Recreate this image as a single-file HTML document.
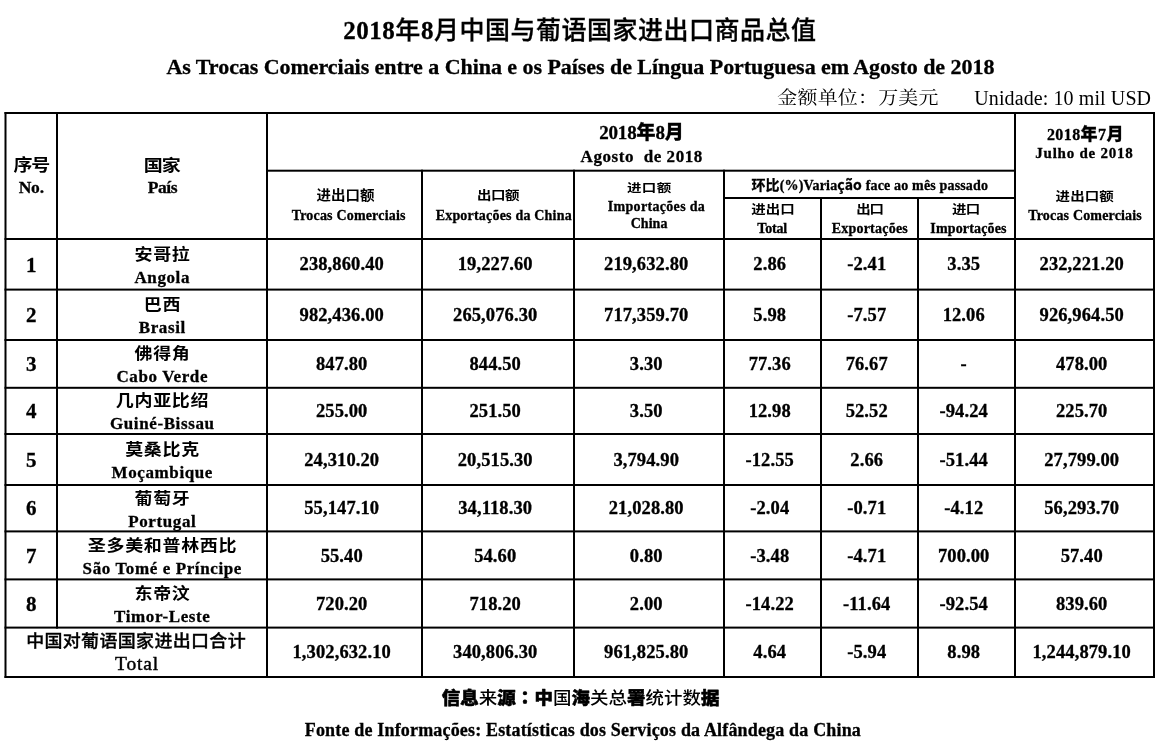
<!DOCTYPE html>
<html lang="zh">
<head>
<meta charset="utf-8">
<title>2018年8月中国与葡语国家进出口商品总值</title>
<style>
html,body{margin:0;padding:0;background:#fff;}
body{width:1162px;height:750px;overflow:hidden;}
svg{display:block;}
text{fill:#000;}
</style>
</head>
<body>
<svg width="1162" height="750" viewBox="0 0 1162 750">
<rect x="0" y="0" width="1162" height="750" fill="#fff"/>
<g fill="#000">
<rect x="4.5" y="112.0" width="1150.5" height="2.0"/>
<rect x="4.5" y="238.0" width="1150.5" height="2.0"/>
<rect x="4.5" y="288.6" width="1150.5" height="2.0"/>
<rect x="4.5" y="339.0" width="1150.5" height="2.0"/>
<rect x="4.5" y="386.8" width="1150.5" height="2.0"/>
<rect x="4.5" y="433.0" width="1150.5" height="2.0"/>
<rect x="4.5" y="484.0" width="1150.5" height="2.0"/>
<rect x="4.5" y="530.4" width="1150.5" height="2.0"/>
<rect x="4.5" y="578.4" width="1150.5" height="2.0"/>
<rect x="4.5" y="626.6" width="1150.5" height="2.0"/>
<rect x="4.5" y="676.0" width="1150.5" height="2.0"/>
<rect x="266.0" y="169.7" width="750.0" height="2.0"/>
<rect x="723.0" y="197.0" width="293.0" height="2.0"/>
<rect x="4.5" y="112.0" width="2.0" height="566.0"/>
<rect x="1153.0" y="112.0" width="2.0" height="566.0"/>
<rect x="56.0" y="112.0" width="2.0" height="516.6"/>
<rect x="266.0" y="112.0" width="2.0" height="566.0"/>
<rect x="421.0" y="169.7" width="2.0" height="508.3"/>
<rect x="573.0" y="169.7" width="2.0" height="508.3"/>
<rect x="723.0" y="169.7" width="2.0" height="508.3"/>
<rect x="820.0" y="197.0" width="2.0" height="481.0"/>
<rect x="917.0" y="197.0" width="2.0" height="481.0"/>
<rect x="1014.0" y="112.0" width="2.0" height="566.0"/>
</g>
<g>
<text x="579.93" y="38.90" text-anchor="middle" font-size="25.00" font-family="'Liberation Serif', 'Noto Sans CJK SC', serif" font-weight="bold" letter-spacing="0.51" stroke="#000" stroke-width="0.3">2018<tspan font-family="'Noto Sans CJK SC', sans-serif" font-weight="500">年</tspan>8<tspan font-family="'Noto Sans CJK SC', sans-serif" font-weight="500">月中国与葡语国家进出口商品总值</tspan></text>
<text x="580.42" y="73.90" text-anchor="middle" font-size="22.00" font-family="'Liberation Serif', 'Noto Sans CJK SC', serif" font-weight="bold" letter-spacing="-0.05" stroke="#000" stroke-width="0.3">As Trocas Comerciais entre a China e os Países de Língua Portuguesa em Agosto de 2018</text>
<text transform="translate(858.00 104.10) scale(1.000 0.886)" text-anchor="middle" font-size="20.00" font-family="'Noto Serif CJK SC', serif" letter-spacing="0.18">金额单位：万美元</text>
<text x="1062.72" y="104.90" text-anchor="middle" font-size="20.00" font-family="'Liberation Serif', 'Noto Sans CJK SC', serif" letter-spacing="0.10">Unidade: 10 mil USD</text>
<text transform="translate(31.13 171.28) scale(1.000 0.892)" text-anchor="middle" font-size="19.00" font-family="'Noto Sans CJK SC', sans-serif" font-weight="bold" letter-spacing="-1.32">序号</text>
<text x="31.25" y="193.40" text-anchor="middle" font-size="17.50" font-family="'Liberation Serif', 'Noto Sans CJK SC', serif" font-weight="bold" letter-spacing="-0.18" stroke="#000" stroke-width="0.3">No.</text>
<text transform="translate(161.70 171.28) scale(1.000 0.850)" text-anchor="middle" font-size="19.00" font-family="'Noto Sans CJK SC', sans-serif" font-weight="bold" letter-spacing="-0.96">国家</text>
<text x="162.39" y="193.40" text-anchor="middle" font-size="17.50" font-family="'Liberation Serif', 'Noto Sans CJK SC', serif" font-weight="bold" letter-spacing="-0.48" stroke="#000" stroke-width="0.3">País</text>
<text x="641.42" y="138.90" text-anchor="middle" font-size="19.00" font-family="'Liberation Serif', 'Noto Sans CJK SC', serif" font-weight="bold" letter-spacing="-0.14" stroke="#000" stroke-width="0.3">2018<tspan font-family="'Noto Sans CJK SC', sans-serif" font-weight="900">年</tspan>8<tspan font-family="'Noto Sans CJK SC', sans-serif" font-weight="900">月</tspan></text>
<text x="641.73" y="161.50" text-anchor="middle" font-size="17.00" font-family="'Liberation Serif', 'Noto Sans CJK SC', serif" font-weight="bold" letter-spacing="0.57" xml:space="preserve" stroke="#000" stroke-width="0.3">Agosto  de 2018</text>
<text x="1085.38" y="139.70" text-anchor="middle" font-size="16.00" font-family="'Liberation Serif', 'Noto Sans CJK SC', serif" font-weight="bold" letter-spacing="0.41" stroke="#000" stroke-width="0.3">2018<tspan font-family="'Noto Sans CJK SC', sans-serif" font-weight="900" font-size="17">年</tspan>7<tspan font-family="'Noto Sans CJK SC', sans-serif" font-weight="900" font-size="17">月</tspan></text>
<text x="1084.42" y="158.40" text-anchor="middle" font-size="15.00" font-family="'Liberation Serif', 'Noto Sans CJK SC', serif" font-weight="bold" letter-spacing="0.75" stroke="#000" stroke-width="0.3">Julho de 2018</text>
<text transform="translate(345.45 200.28) scale(1.000 0.907)" text-anchor="middle" font-size="14.50" font-family="'Noto Sans CJK SC', sans-serif" font-weight="bold" letter-spacing="0.03">进出口额</text>
<text x="348.68" y="219.80" text-anchor="middle" font-size="14.00" font-family="'Liberation Serif', 'Noto Sans CJK SC', serif" font-weight="bold" letter-spacing="0.18" stroke="#000" stroke-width="0.3">Trocas Comerciais</text>
<text transform="translate(498.02 200.20) scale(1.000 0.843)" text-anchor="middle" font-size="14.50" font-family="'Noto Sans CJK SC', sans-serif" font-weight="bold" letter-spacing="-0.41">出口额</text>
<text x="503.77" y="219.80" text-anchor="middle" font-size="14.00" font-family="'Liberation Serif', 'Noto Sans CJK SC', serif" font-weight="bold" letter-spacing="0.20" stroke="#000" stroke-width="0.3">Exportações da China</text>
<text transform="translate(649.32 191.80) scale(1.000 0.796)" text-anchor="middle" font-size="14.50" font-family="'Noto Sans CJK SC', sans-serif" font-weight="bold" letter-spacing="0.45">进口额</text>
<text x="656.45" y="211.20" text-anchor="middle" font-size="14.00" font-family="'Liberation Serif', 'Noto Sans CJK SC', serif" font-weight="bold" letter-spacing="0.32" stroke="#000" stroke-width="0.3">Importações da</text>
<text x="649.11" y="227.50" text-anchor="middle" font-size="14.00" font-family="'Liberation Serif', 'Noto Sans CJK SC', serif" font-weight="bold" letter-spacing="0.04" stroke="#000" stroke-width="0.3">China</text>
<text x="869.80" y="190.00" text-anchor="middle" font-size="14.00" font-family="'Liberation Serif', 'Noto Sans CJK SC', serif" font-weight="bold" letter-spacing="0.16" stroke="#000" stroke-width="0.3"><tspan font-family="'Noto Sans CJK SC', sans-serif" font-weight="bold">环比</tspan>(%)Varia<tspan font-family="'Noto Sans CJK SC', sans-serif" font-weight="bold">ção</tspan> face ao mês passado</text>
<text transform="translate(772.97 213.58) scale(1.000 0.843)" text-anchor="middle" font-size="14.50" font-family="'Noto Sans CJK SC', sans-serif" font-weight="bold" letter-spacing="-0.04">进出口</text>
<text x="772.20" y="232.80" text-anchor="middle" font-size="14.00" font-family="'Liberation Serif', 'Noto Sans CJK SC', serif" font-weight="bold" letter-spacing="-0.17" stroke="#000" stroke-width="0.3">Total</text>
<text transform="translate(869.57 214.38) scale(1.000 0.828)" text-anchor="middle" font-size="14.50" font-family="'Noto Sans CJK SC', sans-serif" font-weight="bold" letter-spacing="-1.17">出口</text>
<text x="869.83" y="233.00" text-anchor="middle" font-size="14.00" font-family="'Liberation Serif', 'Noto Sans CJK SC', serif" font-weight="bold" letter-spacing="0.23" stroke="#000" stroke-width="0.3">Exportações</text>
<text transform="translate(965.69 214.38) scale(1.000 0.828)" text-anchor="middle" font-size="14.50" font-family="'Noto Sans CJK SC', sans-serif" font-weight="bold" letter-spacing="-0.81">进口</text>
<text x="968.51" y="233.00" text-anchor="middle" font-size="14.00" font-family="'Liberation Serif', 'Noto Sans CJK SC', serif" font-weight="bold" letter-spacing="0.15" stroke="#000" stroke-width="0.3">Importações</text>
<text transform="translate(1084.74 201.20) scale(1.000 0.828)" text-anchor="middle" font-size="14.50" font-family="'Noto Sans CJK SC', sans-serif" font-weight="bold" letter-spacing="0.12">进出口额</text>
<text x="1085.12" y="219.60" text-anchor="middle" font-size="14.00" font-family="'Liberation Serif', 'Noto Sans CJK SC', serif" font-weight="bold" letter-spacing="0.17" stroke="#000" stroke-width="0.3">Trocas Comerciais</text>
<text x="31.22" y="271.50" text-anchor="middle" font-size="21.00" font-family="'Liberation Serif', 'Noto Sans CJK SC', serif" font-weight="bold" stroke="#000" stroke-width="0.3">1</text>
<text transform="translate(162.47 259.76) scale(1.000 0.890)" text-anchor="middle" font-size="18.00" font-family="'Noto Sans CJK SC', sans-serif" font-weight="700" letter-spacing="0.69">安哥拉</text>
<text x="162.28" y="282.60" text-anchor="middle" font-size="17.00" font-family="'Liberation Serif', 'Noto Sans CJK SC', serif" font-weight="bold" letter-spacing="0.61" stroke="#000" stroke-width="0.3">Angola</text>
<text x="341.72" y="270.40" text-anchor="middle" font-size="18.50" font-family="'Liberation Serif', 'Noto Sans CJK SC', serif" font-weight="bold" letter-spacing="0.11" stroke="#000" stroke-width="0.3">238,860.40</text>
<text x="495.22" y="270.40" text-anchor="middle" font-size="18.50" font-family="'Liberation Serif', 'Noto Sans CJK SC', serif" font-weight="bold" letter-spacing="0.11" stroke="#000" stroke-width="0.3">19,227.60</text>
<text x="646.22" y="270.40" text-anchor="middle" font-size="18.50" font-family="'Liberation Serif', 'Noto Sans CJK SC', serif" font-weight="bold" letter-spacing="0.11" stroke="#000" stroke-width="0.3">219,632.80</text>
<text x="769.72" y="270.40" text-anchor="middle" font-size="18.50" font-family="'Liberation Serif', 'Noto Sans CJK SC', serif" font-weight="bold" letter-spacing="0.11" stroke="#000" stroke-width="0.3">2.86</text>
<text x="866.72" y="270.40" text-anchor="middle" font-size="18.50" font-family="'Liberation Serif', 'Noto Sans CJK SC', serif" font-weight="bold" letter-spacing="0.11" stroke="#000" stroke-width="0.3">-2.41</text>
<text x="963.72" y="270.40" text-anchor="middle" font-size="18.50" font-family="'Liberation Serif', 'Noto Sans CJK SC', serif" font-weight="bold" letter-spacing="0.11" stroke="#000" stroke-width="0.3">3.35</text>
<text x="1081.72" y="270.40" text-anchor="middle" font-size="18.50" font-family="'Liberation Serif', 'Noto Sans CJK SC', serif" font-weight="bold" letter-spacing="0.11" stroke="#000" stroke-width="0.3">232,221.20</text>
<text x="31.22" y="322.00" text-anchor="middle" font-size="21.00" font-family="'Liberation Serif', 'Noto Sans CJK SC', serif" font-weight="bold" stroke="#000" stroke-width="0.3">2</text>
<text transform="translate(162.47 310.26) scale(1.000 0.890)" text-anchor="middle" font-size="18.00" font-family="'Noto Sans CJK SC', sans-serif" font-weight="700" letter-spacing="0.69">巴西</text>
<text x="162.28" y="333.10" text-anchor="middle" font-size="17.00" font-family="'Liberation Serif', 'Noto Sans CJK SC', serif" font-weight="bold" letter-spacing="0.61" stroke="#000" stroke-width="0.3">Brasil</text>
<text x="341.72" y="320.90" text-anchor="middle" font-size="18.50" font-family="'Liberation Serif', 'Noto Sans CJK SC', serif" font-weight="bold" letter-spacing="0.11" stroke="#000" stroke-width="0.3">982,436.00</text>
<text x="495.22" y="320.90" text-anchor="middle" font-size="18.50" font-family="'Liberation Serif', 'Noto Sans CJK SC', serif" font-weight="bold" letter-spacing="0.11" stroke="#000" stroke-width="0.3">265,076.30</text>
<text x="646.22" y="320.90" text-anchor="middle" font-size="18.50" font-family="'Liberation Serif', 'Noto Sans CJK SC', serif" font-weight="bold" letter-spacing="0.11" stroke="#000" stroke-width="0.3">717,359.70</text>
<text x="769.72" y="320.90" text-anchor="middle" font-size="18.50" font-family="'Liberation Serif', 'Noto Sans CJK SC', serif" font-weight="bold" letter-spacing="0.11" stroke="#000" stroke-width="0.3">5.98</text>
<text x="866.72" y="320.90" text-anchor="middle" font-size="18.50" font-family="'Liberation Serif', 'Noto Sans CJK SC', serif" font-weight="bold" letter-spacing="0.11" stroke="#000" stroke-width="0.3">-7.57</text>
<text x="963.72" y="320.90" text-anchor="middle" font-size="18.50" font-family="'Liberation Serif', 'Noto Sans CJK SC', serif" font-weight="bold" letter-spacing="0.11" stroke="#000" stroke-width="0.3">12.06</text>
<text x="1081.72" y="320.90" text-anchor="middle" font-size="18.50" font-family="'Liberation Serif', 'Noto Sans CJK SC', serif" font-weight="bold" letter-spacing="0.11" stroke="#000" stroke-width="0.3">926,964.50</text>
<text x="31.22" y="371.10" text-anchor="middle" font-size="21.00" font-family="'Liberation Serif', 'Noto Sans CJK SC', serif" font-weight="bold" stroke="#000" stroke-width="0.3">3</text>
<text transform="translate(162.47 359.36) scale(1.000 0.890)" text-anchor="middle" font-size="18.00" font-family="'Noto Sans CJK SC', sans-serif" font-weight="700" letter-spacing="0.69">佛得角</text>
<text x="162.28" y="382.20" text-anchor="middle" font-size="17.00" font-family="'Liberation Serif', 'Noto Sans CJK SC', serif" font-weight="bold" letter-spacing="0.61" stroke="#000" stroke-width="0.3">Cabo Verde</text>
<text x="341.72" y="370.00" text-anchor="middle" font-size="18.50" font-family="'Liberation Serif', 'Noto Sans CJK SC', serif" font-weight="bold" letter-spacing="0.11" stroke="#000" stroke-width="0.3">847.80</text>
<text x="495.22" y="370.00" text-anchor="middle" font-size="18.50" font-family="'Liberation Serif', 'Noto Sans CJK SC', serif" font-weight="bold" letter-spacing="0.11" stroke="#000" stroke-width="0.3">844.50</text>
<text x="646.22" y="370.00" text-anchor="middle" font-size="18.50" font-family="'Liberation Serif', 'Noto Sans CJK SC', serif" font-weight="bold" letter-spacing="0.11" stroke="#000" stroke-width="0.3">3.30</text>
<text x="769.72" y="370.00" text-anchor="middle" font-size="18.50" font-family="'Liberation Serif', 'Noto Sans CJK SC', serif" font-weight="bold" letter-spacing="0.11" stroke="#000" stroke-width="0.3">77.36</text>
<text x="866.72" y="370.00" text-anchor="middle" font-size="18.50" font-family="'Liberation Serif', 'Noto Sans CJK SC', serif" font-weight="bold" letter-spacing="0.11" stroke="#000" stroke-width="0.3">76.67</text>
<text x="963.72" y="370.00" text-anchor="middle" font-size="18.50" font-family="'Liberation Serif', 'Noto Sans CJK SC', serif" font-weight="bold" letter-spacing="0.11" stroke="#000" stroke-width="0.3">-</text>
<text x="1081.72" y="370.00" text-anchor="middle" font-size="18.50" font-family="'Liberation Serif', 'Noto Sans CJK SC', serif" font-weight="bold" letter-spacing="0.11" stroke="#000" stroke-width="0.3">478.00</text>
<text x="31.22" y="418.10" text-anchor="middle" font-size="21.00" font-family="'Liberation Serif', 'Noto Sans CJK SC', serif" font-weight="bold" stroke="#000" stroke-width="0.3">4</text>
<text transform="translate(162.47 406.36) scale(1.000 0.890)" text-anchor="middle" font-size="18.00" font-family="'Noto Sans CJK SC', sans-serif" font-weight="700" letter-spacing="0.69">几内亚比绍</text>
<text x="162.28" y="429.20" text-anchor="middle" font-size="17.00" font-family="'Liberation Serif', 'Noto Sans CJK SC', serif" font-weight="bold" letter-spacing="0.61" stroke="#000" stroke-width="0.3">Guiné-Bissau</text>
<text x="341.72" y="417.00" text-anchor="middle" font-size="18.50" font-family="'Liberation Serif', 'Noto Sans CJK SC', serif" font-weight="bold" letter-spacing="0.11" stroke="#000" stroke-width="0.3">255.00</text>
<text x="495.22" y="417.00" text-anchor="middle" font-size="18.50" font-family="'Liberation Serif', 'Noto Sans CJK SC', serif" font-weight="bold" letter-spacing="0.11" stroke="#000" stroke-width="0.3">251.50</text>
<text x="646.22" y="417.00" text-anchor="middle" font-size="18.50" font-family="'Liberation Serif', 'Noto Sans CJK SC', serif" font-weight="bold" letter-spacing="0.11" stroke="#000" stroke-width="0.3">3.50</text>
<text x="769.72" y="417.00" text-anchor="middle" font-size="18.50" font-family="'Liberation Serif', 'Noto Sans CJK SC', serif" font-weight="bold" letter-spacing="0.11" stroke="#000" stroke-width="0.3">12.98</text>
<text x="866.72" y="417.00" text-anchor="middle" font-size="18.50" font-family="'Liberation Serif', 'Noto Sans CJK SC', serif" font-weight="bold" letter-spacing="0.11" stroke="#000" stroke-width="0.3">52.52</text>
<text x="963.72" y="417.00" text-anchor="middle" font-size="18.50" font-family="'Liberation Serif', 'Noto Sans CJK SC', serif" font-weight="bold" letter-spacing="0.11" stroke="#000" stroke-width="0.3">-94.24</text>
<text x="1081.72" y="417.00" text-anchor="middle" font-size="18.50" font-family="'Liberation Serif', 'Noto Sans CJK SC', serif" font-weight="bold" letter-spacing="0.11" stroke="#000" stroke-width="0.3">225.70</text>
<text x="31.22" y="466.70" text-anchor="middle" font-size="21.00" font-family="'Liberation Serif', 'Noto Sans CJK SC', serif" font-weight="bold" stroke="#000" stroke-width="0.3">5</text>
<text transform="translate(162.47 454.96) scale(1.000 0.890)" text-anchor="middle" font-size="18.00" font-family="'Noto Sans CJK SC', sans-serif" font-weight="700" letter-spacing="0.69">莫桑比克</text>
<text x="162.28" y="477.80" text-anchor="middle" font-size="17.00" font-family="'Liberation Serif', 'Noto Sans CJK SC', serif" font-weight="bold" letter-spacing="0.61" stroke="#000" stroke-width="0.3">Moçambique</text>
<text x="341.72" y="465.60" text-anchor="middle" font-size="18.50" font-family="'Liberation Serif', 'Noto Sans CJK SC', serif" font-weight="bold" letter-spacing="0.11" stroke="#000" stroke-width="0.3">24,310.20</text>
<text x="495.22" y="465.60" text-anchor="middle" font-size="18.50" font-family="'Liberation Serif', 'Noto Sans CJK SC', serif" font-weight="bold" letter-spacing="0.11" stroke="#000" stroke-width="0.3">20,515.30</text>
<text x="646.22" y="465.60" text-anchor="middle" font-size="18.50" font-family="'Liberation Serif', 'Noto Sans CJK SC', serif" font-weight="bold" letter-spacing="0.11" stroke="#000" stroke-width="0.3">3,794.90</text>
<text x="769.72" y="465.60" text-anchor="middle" font-size="18.50" font-family="'Liberation Serif', 'Noto Sans CJK SC', serif" font-weight="bold" letter-spacing="0.11" stroke="#000" stroke-width="0.3">-12.55</text>
<text x="866.72" y="465.60" text-anchor="middle" font-size="18.50" font-family="'Liberation Serif', 'Noto Sans CJK SC', serif" font-weight="bold" letter-spacing="0.11" stroke="#000" stroke-width="0.3">2.66</text>
<text x="963.72" y="465.60" text-anchor="middle" font-size="18.50" font-family="'Liberation Serif', 'Noto Sans CJK SC', serif" font-weight="bold" letter-spacing="0.11" stroke="#000" stroke-width="0.3">-51.44</text>
<text x="1081.72" y="465.60" text-anchor="middle" font-size="18.50" font-family="'Liberation Serif', 'Noto Sans CJK SC', serif" font-weight="bold" letter-spacing="0.11" stroke="#000" stroke-width="0.3">27,799.00</text>
<text x="31.22" y="515.40" text-anchor="middle" font-size="21.00" font-family="'Liberation Serif', 'Noto Sans CJK SC', serif" font-weight="bold" stroke="#000" stroke-width="0.3">6</text>
<text transform="translate(162.47 503.66) scale(1.000 0.890)" text-anchor="middle" font-size="18.00" font-family="'Noto Sans CJK SC', sans-serif" font-weight="700" letter-spacing="0.69">葡萄牙</text>
<text x="162.28" y="526.50" text-anchor="middle" font-size="17.00" font-family="'Liberation Serif', 'Noto Sans CJK SC', serif" font-weight="bold" letter-spacing="0.61" stroke="#000" stroke-width="0.3">Portugal</text>
<text x="341.72" y="514.30" text-anchor="middle" font-size="18.50" font-family="'Liberation Serif', 'Noto Sans CJK SC', serif" font-weight="bold" letter-spacing="0.11" stroke="#000" stroke-width="0.3">55,147.10</text>
<text x="495.22" y="514.30" text-anchor="middle" font-size="18.50" font-family="'Liberation Serif', 'Noto Sans CJK SC', serif" font-weight="bold" letter-spacing="0.11" stroke="#000" stroke-width="0.3">34,118.30</text>
<text x="646.22" y="514.30" text-anchor="middle" font-size="18.50" font-family="'Liberation Serif', 'Noto Sans CJK SC', serif" font-weight="bold" letter-spacing="0.11" stroke="#000" stroke-width="0.3">21,028.80</text>
<text x="769.72" y="514.30" text-anchor="middle" font-size="18.50" font-family="'Liberation Serif', 'Noto Sans CJK SC', serif" font-weight="bold" letter-spacing="0.11" stroke="#000" stroke-width="0.3">-2.04</text>
<text x="866.72" y="514.30" text-anchor="middle" font-size="18.50" font-family="'Liberation Serif', 'Noto Sans CJK SC', serif" font-weight="bold" letter-spacing="0.11" stroke="#000" stroke-width="0.3">-0.71</text>
<text x="963.72" y="514.30" text-anchor="middle" font-size="18.50" font-family="'Liberation Serif', 'Noto Sans CJK SC', serif" font-weight="bold" letter-spacing="0.11" stroke="#000" stroke-width="0.3">-4.12</text>
<text x="1081.72" y="514.30" text-anchor="middle" font-size="18.50" font-family="'Liberation Serif', 'Noto Sans CJK SC', serif" font-weight="bold" letter-spacing="0.11" stroke="#000" stroke-width="0.3">56,293.70</text>
<text x="31.22" y="562.60" text-anchor="middle" font-size="21.00" font-family="'Liberation Serif', 'Noto Sans CJK SC', serif" font-weight="bold" stroke="#000" stroke-width="0.3">7</text>
<text transform="translate(162.47 550.86) scale(1.000 0.890)" text-anchor="middle" font-size="18.00" font-family="'Noto Sans CJK SC', sans-serif" font-weight="700" letter-spacing="0.69">圣多美和普林西比</text>
<text x="162.28" y="573.70" text-anchor="middle" font-size="17.00" font-family="'Liberation Serif', 'Noto Sans CJK SC', serif" font-weight="bold" letter-spacing="0.61" stroke="#000" stroke-width="0.3">São Tomé e Príncipe</text>
<text x="341.72" y="561.50" text-anchor="middle" font-size="18.50" font-family="'Liberation Serif', 'Noto Sans CJK SC', serif" font-weight="bold" letter-spacing="0.11" stroke="#000" stroke-width="0.3">55.40</text>
<text x="495.22" y="561.50" text-anchor="middle" font-size="18.50" font-family="'Liberation Serif', 'Noto Sans CJK SC', serif" font-weight="bold" letter-spacing="0.11" stroke="#000" stroke-width="0.3">54.60</text>
<text x="646.22" y="561.50" text-anchor="middle" font-size="18.50" font-family="'Liberation Serif', 'Noto Sans CJK SC', serif" font-weight="bold" letter-spacing="0.11" stroke="#000" stroke-width="0.3">0.80</text>
<text x="769.72" y="561.50" text-anchor="middle" font-size="18.50" font-family="'Liberation Serif', 'Noto Sans CJK SC', serif" font-weight="bold" letter-spacing="0.11" stroke="#000" stroke-width="0.3">-3.48</text>
<text x="866.72" y="561.50" text-anchor="middle" font-size="18.50" font-family="'Liberation Serif', 'Noto Sans CJK SC', serif" font-weight="bold" letter-spacing="0.11" stroke="#000" stroke-width="0.3">-4.71</text>
<text x="963.72" y="561.50" text-anchor="middle" font-size="18.50" font-family="'Liberation Serif', 'Noto Sans CJK SC', serif" font-weight="bold" letter-spacing="0.11" stroke="#000" stroke-width="0.3">700.00</text>
<text x="1081.72" y="561.50" text-anchor="middle" font-size="18.50" font-family="'Liberation Serif', 'Noto Sans CJK SC', serif" font-weight="bold" letter-spacing="0.11" stroke="#000" stroke-width="0.3">57.40</text>
<text x="31.22" y="610.70" text-anchor="middle" font-size="21.00" font-family="'Liberation Serif', 'Noto Sans CJK SC', serif" font-weight="bold" stroke="#000" stroke-width="0.3">8</text>
<text transform="translate(162.47 598.96) scale(1.000 0.890)" text-anchor="middle" font-size="18.00" font-family="'Noto Sans CJK SC', sans-serif" font-weight="700" letter-spacing="0.69">东帝汶</text>
<text x="162.28" y="621.80" text-anchor="middle" font-size="17.00" font-family="'Liberation Serif', 'Noto Sans CJK SC', serif" font-weight="bold" letter-spacing="0.61" stroke="#000" stroke-width="0.3">Timor-Leste</text>
<text x="341.72" y="609.60" text-anchor="middle" font-size="18.50" font-family="'Liberation Serif', 'Noto Sans CJK SC', serif" font-weight="bold" letter-spacing="0.11" stroke="#000" stroke-width="0.3">720.20</text>
<text x="495.22" y="609.60" text-anchor="middle" font-size="18.50" font-family="'Liberation Serif', 'Noto Sans CJK SC', serif" font-weight="bold" letter-spacing="0.11" stroke="#000" stroke-width="0.3">718.20</text>
<text x="646.22" y="609.60" text-anchor="middle" font-size="18.50" font-family="'Liberation Serif', 'Noto Sans CJK SC', serif" font-weight="bold" letter-spacing="0.11" stroke="#000" stroke-width="0.3">2.00</text>
<text x="769.72" y="609.60" text-anchor="middle" font-size="18.50" font-family="'Liberation Serif', 'Noto Sans CJK SC', serif" font-weight="bold" letter-spacing="0.11" stroke="#000" stroke-width="0.3">-14.22</text>
<text x="866.72" y="609.60" text-anchor="middle" font-size="18.50" font-family="'Liberation Serif', 'Noto Sans CJK SC', serif" font-weight="bold" letter-spacing="0.11" stroke="#000" stroke-width="0.3">-11.64</text>
<text x="963.72" y="609.60" text-anchor="middle" font-size="18.50" font-family="'Liberation Serif', 'Noto Sans CJK SC', serif" font-weight="bold" letter-spacing="0.11" stroke="#000" stroke-width="0.3">-92.54</text>
<text x="1081.72" y="609.60" text-anchor="middle" font-size="18.50" font-family="'Liberation Serif', 'Noto Sans CJK SC', serif" font-weight="bold" letter-spacing="0.11" stroke="#000" stroke-width="0.3">839.60</text>
<text transform="translate(136.06 647.33) scale(1.000 0.933)" text-anchor="middle" font-size="18.00" font-family="'Noto Sans CJK SC', sans-serif" font-weight="500" letter-spacing="0.34" stroke="#000" stroke-width="0.35">中国对葡语国家进出口合计</text>
<text x="137.04" y="670.40" text-anchor="middle" font-size="19.50" font-family="'Liberation Serif', 'Noto Sans CJK SC', serif" letter-spacing="0.85" stroke="#000" stroke-width="0.45">Total</text>
<text x="341.72" y="658.15" text-anchor="middle" font-size="18.50" font-family="'Liberation Serif', 'Noto Sans CJK SC', serif" font-weight="bold" letter-spacing="0.11" stroke="#000" stroke-width="0.3">1,302,632.10</text>
<text x="495.22" y="658.15" text-anchor="middle" font-size="18.50" font-family="'Liberation Serif', 'Noto Sans CJK SC', serif" font-weight="bold" letter-spacing="0.11" stroke="#000" stroke-width="0.3">340,806.30</text>
<text x="646.22" y="658.15" text-anchor="middle" font-size="18.50" font-family="'Liberation Serif', 'Noto Sans CJK SC', serif" font-weight="bold" letter-spacing="0.11" stroke="#000" stroke-width="0.3">961,825.80</text>
<text x="769.72" y="658.15" text-anchor="middle" font-size="18.50" font-family="'Liberation Serif', 'Noto Sans CJK SC', serif" font-weight="bold" letter-spacing="0.11" stroke="#000" stroke-width="0.3">4.64</text>
<text x="866.72" y="658.15" text-anchor="middle" font-size="18.50" font-family="'Liberation Serif', 'Noto Sans CJK SC', serif" font-weight="bold" letter-spacing="0.11" stroke="#000" stroke-width="0.3">-5.94</text>
<text x="963.72" y="658.15" text-anchor="middle" font-size="18.50" font-family="'Liberation Serif', 'Noto Sans CJK SC', serif" font-weight="bold" letter-spacing="0.11" stroke="#000" stroke-width="0.3">8.98</text>
<text x="1081.72" y="658.15" text-anchor="middle" font-size="18.50" font-family="'Liberation Serif', 'Noto Sans CJK SC', serif" font-weight="bold" letter-spacing="0.11" stroke="#000" stroke-width="0.3">1,244,879.10</text>
<text transform="translate(580.68 704.00) scale(1.000 0.930)" text-anchor="middle" font-size="18.50" font-family="'Noto Sans CJK SC', sans-serif" letter-spacing="0.02"><tspan font-weight="900" stroke="#000" stroke-width="0.6" stroke-linejoin="round">信息</tspan><tspan font-weight="500">来</tspan><tspan font-weight="900" stroke="#000" stroke-width="0.6" stroke-linejoin="round">源</tspan><tspan font-weight="900" stroke="#000" stroke-width="0.6" stroke-linejoin="round"><tspan font-family="'Noto Sans CJK TC', sans-serif" xml:lang="zh-TW" lang="zh-TW">：</tspan></tspan><tspan font-weight="900" stroke="#000" stroke-width="0.6" stroke-linejoin="round">中</tspan><tspan font-weight="500">国</tspan><tspan font-weight="900" stroke="#000" stroke-width="0.6" stroke-linejoin="round">海</tspan><tspan font-weight="500">关总</tspan><tspan font-weight="900" stroke="#000" stroke-width="0.6" stroke-linejoin="round">署</tspan><tspan font-weight="500">统计数</tspan><tspan font-weight="900" stroke="#000" stroke-width="0.6" stroke-linejoin="round">据</tspan></text>
<text x="582.90" y="735.80" text-anchor="middle" font-size="18.00" font-family="'Liberation Serif', 'Noto Sans CJK SC', serif" font-weight="bold" letter-spacing="0.17" stroke="#000" stroke-width="0.3">Fonte de Informações: Estatísticas dos Serviços da Alfândega da China</text>
</g>
</svg>
</body>
</html>
